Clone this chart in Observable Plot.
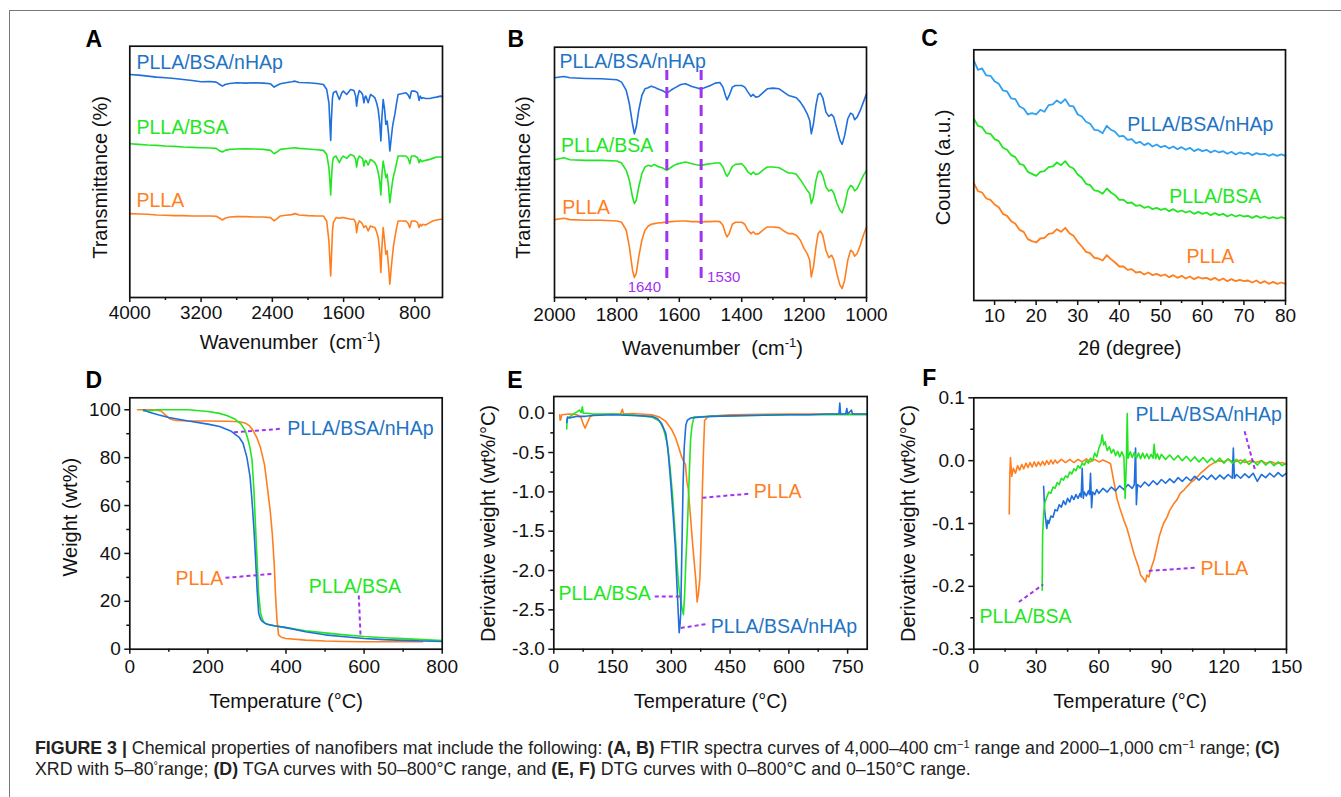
<!DOCTYPE html>
<html><head><meta charset="utf-8">
<script src="https://cdn.jsdelivr.net/npm/d3@7"></script>
<script src="https://cdn.jsdelivr.net/npm/@observablehq/plot@0.6"></script>
<style>
body{margin:0;background:#fff;}
#page{position:relative;width:1341px;height:797px;overflow:hidden;background:#fff;font-family:"Liberation Sans",Arial,Helvetica,sans-serif;}
.panel{position:absolute;}
#border{position:absolute;left:9px;top:10px;width:1340px;height:800px;border-left:1.4px solid #777;border-top:1.4px solid #777;}
#caption{position:absolute;left:35px;top:738px;font-size:17.8px;line-height:21px;color:#222;white-space:nowrap;}
#caption sup{font-size:11px;line-height:0;vertical-align:6px;}
</style></head><body><div id="page"><div id="border"></div>
<div id="caption"><b>FIGURE 3 |</b> Chemical properties of nanofibers mat include the following: <b>(A, B)</b> FTIR spectra curves of 4,000–400 cm<sup>−1</sup> range and 2000–1,000 cm<sup>−1</sup> range; <b>(C)</b><br>XRD with 5–80<sup>°</sup>range; <b>(D)</b> TGA curves with 50–800°C range, and <b>(E, F)</b> DTG curves with 0–800°C and 0–150°C range.</div>
</div>
<script>
// ---------- DATA ----------
// Panel A: FTIR 4000–490 cm-1 (relative transmittance, arbitrary units)
const ftirA_wavenumber = [4000,3900,3800,3700,3600,3500,3400,3300,3200,3100,3030,2990,2960,2930,2880,2800,2700,2600,2500,2420,2380,2350,2310,2250,2180,2144,2100,2000,1900,1827,1790,1765,1752,1745,1738,1725,1715,1685,1648,1620,1603,1566,1521,1484,1465,1454,1440,1424,1400,1387,1372,1360,1350,1324,1298,1270,1249,1230,1212,1195,1182,1170,1156,1140,1126,1111,1095,1081,1065,1050,1040,1025,1005,988,950,900,875,857,845,838,800,770,753,740,725,710,680,633,600,558,510,490];
const ftirA_nHAp = [840,838,835,832,830,828,825,822,818,819,817,810,805,810,813,815,814,815,814,812,802,807,812,815,818,820,816,815,813,810,795,755,680,642,700,770,785,790,765,785,790,780,795,792,775,745,775,792,785,780,755,772,775,755,780,775,770,755,735,695,640,710,765,735,690,700,660,610,650,685,700,720,755,780,782,785,778,768,782,790,790,785,762,775,768,770,768,768,770,772,775,774];
const ftirA_BSA = [632,630,628,627,625,624,622,621,620,619,618,610,607,612,615,616,617,616,615,612,602,607,615,617,619,620,618,616,614,612,600,560,510,478,520,575,590,595,575,590,595,588,600,595,585,562,585,595,590,588,565,580,582,568,585,580,575,565,545,520,478,540,580,555,530,540,500,455,490,520,535,550,575,595,595,595,588,572,588,595,595,590,575,585,578,580,582,585,588,592,592,593];
const ftirA_PLLA = [422,421,420,418,417,416,416,415,415,415,414,408,403,408,412,413,413,412,412,410,400,406,415,417,419,422,418,416,415,415,400,340,270,235,280,370,395,410,408,410,410,408,405,405,395,365,390,400,395,390,380,384,385,370,385,382,380,368,350,310,245,320,380,340,300,310,260,210,260,300,325,350,380,400,400,400,392,380,392,400,400,395,380,390,385,390,388,395,400,403,405,405];
const ftirA_ticks = [4000,3200,2400,1600,800];
const ftirA_minor = [3600,2800,2000,1200];

// Panel B: FTIR 2000–1000 cm-1
const ftirB_wavenumber = [2000,1970,1950,1900,1850,1800,1785,1770,1760,1750,1744,1738,1730,1720,1710,1700,1690,1680,1670,1655,1640,1625,1610,1595,1580,1560,1545,1530,1515,1500,1485,1470,1460,1452,1447,1440,1430,1420,1400,1390,1380,1370,1363,1355,1345,1330,1318,1300,1280,1265,1250,1238,1225,1212,1200,1190,1182,1177,1170,1162,1155,1148,1140,1130,1121,1112,1105,1095,1085,1078,1070,1060,1051,1044,1038,1030,1020,1010,1000];
const ftirB_nHAp = [828,832,828,826,825,822,815,790,750,690,660,680,730,775,795,798,803,800,795,790,782,792,800,808,810,802,798,794,800,805,812,814,800,775,762,775,800,805,805,800,785,772,778,770,772,785,795,797,795,785,775,772,768,755,738,720,700,660,690,745,778,782,768,725,712,718,710,675,640,628,655,705,722,718,702,710,730,755,780];
const ftirB_BSA = [582,588,582,580,580,578,572,550,520,470,450,460,500,540,560,565,562,568,562,558,550,560,568,572,575,570,567,565,568,570,572,572,560,540,532,542,562,568,570,560,545,538,545,538,540,552,560,560,558,550,542,542,538,522,505,490,480,450,470,520,545,548,535,500,488,492,482,452,430,423,445,490,505,500,488,495,515,535,550];
const ftirB_PLLA = [402,406,402,400,400,398,394,370,320,250,228,240,290,340,370,382,388,390,392,393,395,396,397,398,398,396,396,395,396,396,397,396,385,360,350,360,388,394,394,388,370,360,365,358,360,372,380,380,378,368,360,360,355,340,315,300,280,230,260,320,360,368,355,310,288,295,282,240,205,195,220,280,310,305,292,300,325,355,380];
const ftirB_ticks = [2000,1800,1600,1400,1200,1000];
const ftirB_minor = [1900,1700,1500,1300,1100];
const ftirB_marks = [1640,1530];

// Panel C: XRD 2θ 5–80 (counts, arbitrary units)
const xrd_theta = [5,6,7,8,9,10,11,12,13,14,15,16,17,18,19,20,21,22,23,24,25,26,27,28,29,30,31,32,33,34,35,36,37,38,39,40,41,42,43,44,45,46,47,48,49,50,51,52,53,54,55,56,57,58,59,60,61,62,63,64,65,66,67,68,69,70,71,72,73,74,75,76,77,78,79,80];
const xrd_nHAp = [880,852,856,835,834,818,810,790,787,766,764,742,736,718,722,718,732,726,746,748,760,752,764,744,742,718,712,696,690,672,670,662,684,672,666,652,654,642,644,632,636,626,632,622,628,620,624,616,622,614,620,612,618,608,614,608,612,604,610,604,608,600,606,598,604,600,603,596,602,598,600,594,599,594,598,594];
const xrd_BSA = [705,684,680,662,660,644,638,618,612,596,590,570,566,546,540,534,546,548,560,562,574,566,578,562,556,538,528,510,506,490,488,480,496,484,476,462,462,452,454,444,446,438,442,434,438,432,436,428,434,426,430,424,428,420,426,420,424,416,422,416,420,412,418,412,416,412,414,408,414,408,412,406,410,406,410,406];
const xrd_PLLA = [512,488,484,466,462,448,440,420,414,398,390,372,366,344,338,334,346,348,360,362,374,366,378,362,354,336,322,306,302,288,286,280,296,284,274,262,262,252,254,244,246,238,244,236,240,234,238,230,236,228,234,226,232,224,230,226,228,222,228,220,226,218,224,218,222,218,220,214,220,212,218,210,216,210,214,210];
const xrd_ticks = [10,20,30,40,50,60,70,80];
const xrd_minor = [15,25,35,45,55,65,75];

// Panel D: TGA [temperature °C, weight %]
const tgaPLLA = [[20,100],[40,100],[60,100],[80,99.5],[90,98],[100,96.5],[110,95.8],[120,95.5],[150,95.3],[200,95.3],[250,95.2],[280,95],[295,94.5],[305,93.5],[315,91.5],[325,88.5],[335,84],[345,77],[352,68],[360,57],[365,48],[370,35],[373,23],[377,12],[381,6],[388,5],[400,4.5],[450,3.8],[500,3.4],[550,3.2],[600,3.1],[700,3.1],[750,3.1]];
const tgaBSA = [[35,99.5],[50,99.5],[70,100],[100,100],[150,100],[200,99.3],[230,98.5],[250,97.5],[270,96],[285,94],[295,91.5],[302,88],[308,84],[313,79],[318,66],[322,51],[326,37],[330,23],[335,15],[340,12.3],[345,11],[355,10.2],[370,9.8],[400,9],[450,7.7],[500,6.8],[550,6],[600,5.3],[650,4.8],[700,4.4],[750,4],[800,3.6]];
const tgaNHAp = [[35,100],[50,99],[75,97.8],[100,96.8],[150,95.3],[200,94],[230,93],[260,91],[280,88.5],[290,86],[300,80],[308,72],[313,62],[318,50],[322,38],[326,25],[330,15],[335,12.5],[340,11.5],[350,10.5],[370,9.8],[400,9],[450,7.3],[500,6],[550,5.2],[600,4.5],[650,4],[700,3.7],[750,3.4],[800,3.2]];
const tga_xticks = [0,200,400,600,800], tga_xminor = [100,300,500,700];
const tga_yticks = [0,20,40,60,80,100], tga_yminor = [10,30,50,70,90];

// Panel E: DTG 0–800 °C [temperature, wt%/°C]
const dtgPLLA = [[15,-0.02],[16,-0.09],[18,-0.08],[20,-0.02],[40,-0.01],[60,-0.02],[70,-0.06],[76,-0.15],[80,-0.19],[85,-0.13],[92,-0.05],[100,-0.02],[150,-0.01],[170,-0.01],[175,0.05],[178,-0.01],[200,-0.005],[250,-0.02],[270,-0.05],[285,-0.1],[300,-0.2],[310,-0.3],[318,-0.42],[324,-0.52],[330,-0.6],[336,-0.65],[340,-0.88],[343,-0.95],[349,-1.32],[355,-1.7],[362,-2.09],[366,-2.4],[369,-2.3],[373,-2.09],[376,-1.6],[379,-1.03],[382,-0.5],[385,-0.09],[395,-0.04],[450,-0.02],[600,-0.01],[800,-0.01]];
const dtgBSA = [[33,-0.2],[34,-0.07],[40,-0.05],[50,-0.01],[60,0.02],[65,0.04],[70,0.01],[73,0.08],[75,0.0],[85,0.0],[100,-0.01],[150,-0.01],[200,-0.02],[250,-0.05],[270,-0.1],[280,-0.2],[290,-0.39],[297,-0.7],[303,-1.03],[308,-1.4],[314,-1.88],[319,-2.2],[324,-2.39],[328,-2.5],[331,-2.56],[334,-2.3],[337,-1.9],[341,-1.45],[345,-0.9],[349,-0.35],[353,-0.15],[358,-0.05],[400,-0.04],[500,-0.03],[600,-0.02],[700,-0.02],[800,-0.02]];
const dtgNHAp = [[33,-0.12],[35,-0.05],[40,-0.06],[60,-0.04],[80,-0.04],[100,-0.03],[150,-0.02],[200,-0.03],[250,-0.04],[265,-0.07],[275,-0.13],[286,-0.26],[292,-0.5],[298,-0.85],[304,-1.25],[310,-1.69],[314,-2.15],[318,-2.58],[320,-2.79],[322,-2.7],[324,-2.54],[326,-2.0],[328,-1.45],[330,-0.9],[333,-0.43],[337,-0.15],[341,-0.09],[350,-0.06],[400,-0.04],[500,-0.03],[600,-0.02],[650,-0.02],[700,-0.01],[728,-0.01],[730,0.13],[732,-0.01],[745,-0.01],[748,0.06],[750,-0.01],[760,0.04],[762,-0.01],[800,-0.01]];
const dtg_xticks = [0,150,300,450,600,750], dtg_xminor = [75,225,375,525,675];
const dtg_yticks = [0,-0.5,-1,-1.5,-2,-2.5,-3], dtg_yminor = [-0.25,-0.75,-1.25,-1.75,-2.25,-2.75];

// Panel F: DTG 0–150 °C
const dtgLowPLLA = [[17,-0.085],[17.3,-0.02],[17.6,0.005],[18.2,-0.025],[19,-0.012],[20,-0.02],[21,-0.008],[22,-0.015],[23,-0.006],[24,-0.013],[25,-0.004],[26,-0.011],[27,-0.003],[28,-0.01],[29,-0.002],[30,-0.009],[31,-0.002],[32,-0.008],[33,-0.001],[34,-0.007],[35,0.0],[36,-0.006],[37,0.001],[38,-0.005],[39,0.001],[40,-0.004],[42,0.002],[44,-0.003],[46,0.002],[48,-0.003],[50,0.002],[52,-0.002],[54,0.003],[56,-0.002],[58,0.002],[60,-0.002],[62,0.001],[64,-0.002],[65.6,-0.005],[67,-0.03],[68.8,-0.062],[70,-0.075],[72,-0.095],[73.5,-0.108],[75,-0.126],[77,-0.15],[79,-0.169],[80,-0.182],[81,-0.186],[82.4,-0.193],[83,-0.182],[84,-0.185],[85,-0.172],[86.4,-0.158],[88,-0.135],[89,-0.12],[91,-0.1],[92.8,-0.089],[94,-0.079],[96,-0.068],[97.5,-0.062],[99,-0.052],[101,-0.046],[104,-0.035],[106,-0.03],[108.8,-0.02],[111,-0.014],[113,-0.008],[115,-0.004],[117,0.0],[120,-0.002],[122,0.002],[125,-0.002],[128,0.001],[130,-0.003],[133,0.0],[135,-0.003],[138,0.0],[140,-0.004],[143,-0.002],[145,-0.005],[148,-0.003],[150,-0.006]];
const dtgLowBSA = [[32.8,-0.206],[33,-0.12],[33.5,-0.085],[34,-0.068],[35,-0.058],[36,-0.05],[37,-0.052],[38,-0.042],[39,-0.044],[40,-0.035],[41,-0.038],[42,-0.028],[43,-0.031],[44,-0.024],[45,-0.027],[46,-0.018],[47,-0.021],[48,-0.013],[49,-0.016],[50,-0.008],[51,-0.012],[52,-0.004],[53,-0.007],[54,0.0],[55,-0.004],[56,0.004],[57,0.0],[58,0.012],[59,0.006],[60,0.02],[61,0.028],[61.6,0.041],[62.3,0.025],[63,0.03],[64,0.016],[65,0.022],[66,0.012],[67,0.018],[68,0.008],[69,0.015],[70,0.006],[71,0.014],[72,0.006],[72.6,-0.06],[73.2,0.0],[73.6,0.075],[74,0.004],[75,0.014],[76,0.005],[77,0.013],[78,0.004],[79,0.012],[80,0.003],[81,0.012],[82,0.004],[83,0.011],[84,0.003],[85,0.01],[86,0.004],[86.5,0.026],[87.2,0.003],[88,0.011],[89,0.002],[90,0.01],[92,0.002],[94,0.009],[96,0.001],[98,0.008],[100,0.0],[102,0.007],[104,-0.001],[106,0.006],[108,-0.002],[110,0.005],[112,-0.003],[114,0.004],[116,-0.003],[118,0.004],[120,-0.004],[122,0.003],[124,-0.004],[126,0.002],[128,-0.005],[130,0.002],[132,-0.006],[134,0.0],[136,-0.007],[138,0.0],[140,-0.007],[142,-0.001],[144,-0.008],[146,-0.002],[148,-0.008],[150,-0.004]];
const dtgLowNHAp = [[33.5,-0.041],[34,-0.08],[35,-0.108],[35.5,-0.095],[36,-0.1],[37,-0.088],[38,-0.09],[39,-0.078],[40,-0.08],[41,-0.07],[42,-0.074],[43,-0.064],[44,-0.07],[45,-0.06],[46,-0.066],[47,-0.056],[48,-0.062],[49,-0.054],[50,-0.06],[51,-0.052],[51.5,-0.058],[52,-0.012],[52.5,-0.06],[53,-0.05],[54,-0.056],[55,-0.048],[55.5,-0.054],[56,-0.02],[56.5,-0.075],[57,-0.05],[58,-0.054],[59,-0.046],[60,-0.052],[62,-0.044],[64,-0.05],[66,-0.042],[68,-0.048],[70,-0.04],[72,-0.046],[74,-0.038],[76,-0.044],[77,-0.038],[77.6,0.02],[78,-0.07],[78.5,-0.038],[80,-0.042],[82,-0.034],[84,-0.04],[86,-0.032],[88,-0.038],[90,-0.03],[92,-0.036],[94,-0.029],[96,-0.035],[98,-0.027],[100,-0.033],[102,-0.026],[104,-0.032],[106,-0.025],[108,-0.031],[110,-0.024],[112,-0.03],[114,-0.023],[116,-0.03],[118,-0.023],[120,-0.029],[122,-0.022],[124,-0.028],[124.5,0.02],[125,-0.028],[126,-0.022],[128,-0.028],[130,-0.021],[132,-0.027],[134,-0.02],[136,-0.033],[138,-0.022],[140,-0.027],[142,-0.02],[144,-0.026],[146,-0.019],[148,-0.025],[150,-0.02]];
const dtgLow_xticks = [0,30,60,90,120,150], dtgLow_xminor = [15,45,75,105,135];
const dtgLow_yticks = [0.1,0,-0.1,-0.2,-0.3], dtgLow_yminor = [0.05,-0.05,-0.15,-0.25];

// ---------- STYLE ----------
const FONT = "Liberation Sans, Arial, Helvetica, sans-serif";
const BLUE = "#1f6fdc", GREEN = "#22e622", ORANGE = "#ff7f1f", PURPLE = "#a033f0", LBLUE = "#1f74c4", CBLUE = "#2ea0f2";
const page = document.getElementById("page");
const zip = (xs, ys) => xs.map((x, i) => ({x, y: ys[i]}));
const str = d => String(d);
const fix1 = d => d.toFixed(1);

function panel(pos, scales, marks) {
  const {left, top, width, height, fl, ft, fr, fb} = pos;
  const svg = Plot.plot({
    width, height,
    marginLeft: fl - left, marginTop: ft - top, marginRight: left + width - fr, marginBottom: top + height - fb,
    style: {fontFamily: FONT, fontSize: "19px", color: "#111", background: "transparent", overflow: "visible"},
    ...scales,
    marks
  });
  svg.querySelectorAll("text").forEach(t => {
    if (t.textContent === "Wavenumber (cm-1)") {
      t.innerHTML = 'Wavenumber  (cm<tspan dy="-8" font-size="13">-1</tspan><tspan dy="8">)</tspan>';
      t.setAttribute("xml:space", "preserve");
    }
  });
  const d = document.createElement("div");
  d.className = "panel";
  Object.assign(d.style, {left: left + "px", top: top + "px", width: width + "px", height: height + "px"});
  d.appendChild(svg);
  page.appendChild(d);
}

function xAxes(ticks, minor, fmt, pad = 3) {
  return [
    Plot.axisX(ticks, {tickSize: 5, tickPadding: pad, tickFormat: fmt, label: null, strokeWidth: 1.5, fontSize: 19}),
    Plot.axisX(minor, {tickSize: 3, tickFormat: () => "", label: null, strokeWidth: 1.5})
  ];
}
function yAxes(ticks, minor, fmt) {
  return [
    Plot.axisY(ticks, {tickSize: 5, tickPadding: 4, tickFormat: fmt, label: null, strokeWidth: 1.5, fontSize: 19}),
    Plot.axisY(minor, {tickSize: 3, tickFormat: () => "", label: null, strokeWidth: 1.5})
  ];
}
const title = (t, o) => Plot.text([t], {text: d => d, fontSize: 20, fill: "#111", textAnchor: "middle", lineAnchor: "middle", ...o});
const letter = (t, dx, dy) => Plot.text([t], {text: d => d, frameAnchor: "top-left", dx, dy, textAnchor: "start", lineAnchor: "bottom", fontSize: 23, fontWeight: "bold", fill: "#000"});
const labels = (rows, anchor) => Plot.text(rows, {x: "x", y: "y", text: "t", fill: "c", textAnchor: anchor, fontSize: 19.5});
const leaders = rows => Plot.link(rows, {x1: "x1", y1: "y1", x2: "x2", y2: "y2", stroke: PURPLE, strokeWidth: 2, strokeDasharray: "4,3"});
const frame = Plot.frame({stroke: "#111", strokeWidth: 1.7});
const line = (data, color) => Plot.line(data, {x: d => d[0], y: d => d[1], stroke: color, strokeWidth: 1.6});
const lineXY = (data, color, w = 1.6) => Plot.line(data, {x: "x", y: "y", stroke: color, strokeWidth: w});

// ---------- PANEL A ----------
panel({left: 60, top: 20, width: 400, height: 340, fl: 129.3, ft: 45.7, fr: 442, fb: 297},
  {x: {domain: [4000, 490]}, y: {domain: [170, 925], axis: null}},
  [
    lineXY(zip(ftirA_wavenumber, ftirA_PLLA), ORANGE),
    lineXY(zip(ftirA_wavenumber, ftirA_BSA), GREEN),
    lineXY(zip(ftirA_wavenumber, ftirA_nHAp), BLUE),
    frame,
    ...xAxes(ftirA_ticks, ftirA_minor, str),
    labels([{x: 3925, y: 875, t: "PLLA/BSA/nHAp", c: LBLUE}, {x: 3925, y: 680, t: "PLLA/BSA", c: GREEN}, {x: 3925, y: 460, t: "PLLA", c: ORANGE}], "start"),
    title("Wavenumber (cm-1)", {frameAnchor: "bottom", dy: 45, dx: 4}),
    title("Transmittance (%)", {frameAnchor: "left", rotate: -90, dx: -29.3, dy: 5.6}),
    letter("A", -44.3, 0.3)
  ]);

// ---------- PANEL B ----------
panel({left: 470, top: 20, width: 420, height: 340, fl: 554, ft: 46.7, fr: 866, fb: 297},
  {x: {domain: [2000, 1000]}, y: {domain: [168, 920], axis: null}},
  [
    lineXY(zip(ftirB_wavenumber, ftirB_PLLA), ORANGE),
    lineXY(zip(ftirB_wavenumber, ftirB_BSA), GREEN),
    lineXY(zip(ftirB_wavenumber, ftirB_nHAp), BLUE),
    Plot.ruleX(ftirB_marks, {x: d => d, y1: 225, y2: 850, stroke: PURPLE, strokeWidth: 3, strokeDasharray: "11,7"}),
    Plot.text([{x: 1712, y: 200, t: "1640"}], {x: "x", y: "y", text: "t", fill: PURPLE, fontSize: 15}),
    Plot.text([{x: 1511, y: 230, t: "1530"}], {x: "x", y: "y", text: "t", fill: PURPLE, fontSize: 15, textAnchor: "start"}),
    frame,
    ...xAxes(ftirB_ticks, ftirB_minor, str, 5),
    labels([{x: 1984, y: 875, t: "PLLA/BSA/nHAp", c: LBLUE}, {x: 1979, y: 625, t: "PLLA/BSA", c: GREEN}, {x: 1975, y: 438, t: "PLLA", c: ORANGE}], "start"),
    title("Wavenumber (cm-1)", {frameAnchor: "bottom", dy: 51, dx: 2}),
    title("Transmittance (%)", {frameAnchor: "left", rotate: -90, dx: -31, dy: 5.2}),
    letter("B", -47, -0.7)
  ]);

// ---------- PANEL C ----------
panel({left: 890, top: 20, width: 420, height: 340, fl: 973.3, ft: 49.3, fr: 1285, fb: 300},
  {x: {domain: [5, 80]}, y: {domain: [160, 912], axis: null}},
  [
    lineXY(zip(xrd_theta, xrd_PLLA), ORANGE, 1.8),
    lineXY(zip(xrd_theta, xrd_BSA), GREEN, 1.8),
    lineXY(zip(xrd_theta, xrd_nHAp), CBLUE, 1.8),
    frame,
    ...xAxes(xrd_ticks, xrd_minor, str),
    labels([{x: 59.5, y: 688, t: "PLLA/BSA/nHAp", c: LBLUE}, {x: 63.1, y: 470, t: "PLLA/BSA", c: GREEN}, {x: 61.9, y: 290, t: "PLLA", c: ORANGE}], "middle"),
    title("2θ (degree)", {frameAnchor: "bottom", dy: 48}),
    title("Counts (a.u.)", {frameAnchor: "left", rotate: -90, dx: -30.3, dy: -7.7}),
    letter("C", -52.6, -4.3)
  ]);

// ---------- PANEL D ----------
panel({left: 60, top: 360, width: 420, height: 360, fl: 129.3, ft: 397.3, fr: 441.7, fb: 648.7},
  {x: {domain: [0, 800]}, y: {domain: [0, 105]}},
  [
    line(tgaPLLA, ORANGE),
    line(tgaBSA, GREEN),
    line(tgaNHAp, BLUE),
    leaders([{x1: 266.7, y1: 90.6, x2: 390.2, y2: 92.1}, {x1: 245, y1: 29.8, x2: 367.2, y2: 31.5}, {x1: 586.4, y1: 22.4, x2: 590.8, y2: 5.7}]),
    frame,
    ...xAxes(tga_xticks, tga_xminor, str, 5),
    ...yAxes(tga_yticks, tga_yminor, str),
    labels([{x: 403, y: 92.1, t: "PLLA/BSA/nHAp", c: LBLUE}, {x: 117, y: 29.4, t: "PLLA", c: ORANGE}, {x: 458.4, y: 25.9, t: "PLLA/BSA", c: GREEN}], "start"),
    title("Temperature (°C)", {frameAnchor: "bottom", dy: 52}),
    title("Weight (wt%)", {frameAnchor: "left", rotate: -90, dx: -59.3, dy: -6.3}),
    letter("D", -44.3, -10.3)
  ]);

// ---------- PANEL E ----------
panel({left: 480, top: 360, width: 420, height: 360, fl: 553.3, ft: 396, fr: 866.7, fb: 648.7},
  {x: {domain: [0, 800]}, y: {domain: [-3.0, 0.212]}},
  [
    line(dtgPLLA, ORANGE),
    line(dtgBSA, GREEN),
    line(dtgNHAp, BLUE),
    leaders([{x1: 379.4, y1: -1.075, x2: 498.6, y2: -1.024}, {x1: 257.7, y1: -2.33, x2: 322, y2: -2.33}, {x1: 324, y1: -2.73, x2: 390.6, y2: -2.68}]),
    frame,
    ...xAxes(dtg_xticks, dtg_xminor, str, 5),
    ...yAxes(dtg_yticks, dtg_yminor, fix1),
    labels([{x: 510.6, y: -1.0, t: "PLLA", c: ORANGE}, {x: 12, y: -2.296, t: "PLLA/BSA", c: GREEN}, {x: 400.7, y: -2.72, t: "PLLA/BSA/nHAp", c: LBLUE}], "start"),
    title("Temperature (°C)", {frameAnchor: "bottom", dy: 52}),
    title("Derivative weight (wt%/°C)", {frameAnchor: "left", rotate: -90, dx: -65.3, dy: 0.6}),
    letter("E", -46.6, -9)
  ]);

// ---------- PANEL F ----------
panel({left: 900, top: 360, width: 420, height: 360, fl: 973.3, ft: 397.3, fr: 1286, fb: 648.7},
  {x: {domain: [0, 150]}, y: {domain: [-0.3, 0.1]}},
  [
    line(dtgLowPLLA, ORANGE),
    line(dtgLowNHAp, BLUE),
    line(dtgLowBSA, GREEN),
    leaders([{x1: 129.9, y1: 0.0467, x2: 135.1, y2: -0.0173}, {x1: 83.9, y1: -0.1754, x2: 107.1, y2: -0.170}, {x1: 21.6, y1: -0.225, x2: 33.3, y2: -0.197}]),
    frame,
    ...xAxes(dtgLow_xticks, dtgLow_xminor, str, 5),
    ...yAxes(dtgLow_yticks, dtgLow_yminor, fix1),
    labels([{x: 77.6, y: 0.0733, t: "PLLA/BSA/nHAp", c: LBLUE}, {x: 108.8, y: -0.1716, t: "PLLA", c: ORANGE}, {x: 2.7, y: -0.248, t: "PLLA/BSA", c: GREEN}], "start"),
    title("Temperature (°C)", {frameAnchor: "bottom", dy: 52}),
    title("Derivative weight (wt%/°C)", {frameAnchor: "left", rotate: -90, dx: -65.3, dy: 0}),
    letter("F", -51.6, -12.3)
  ]);
</script>
</body></html>
